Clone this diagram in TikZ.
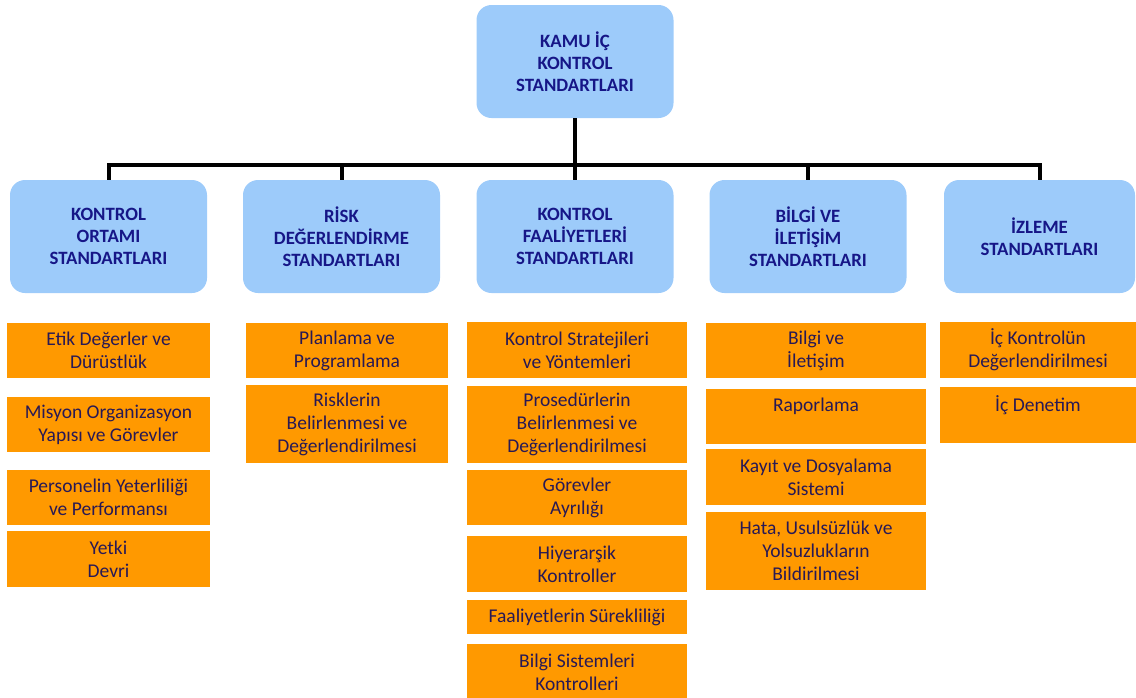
\documentclass[tikz,border=0pt]{standalone}
\usepackage{fontspec}
\setmainfont{Carlito}
\usepackage{xcolor}
\usepackage{tikz}
\usetikzlibrary{positioning}
\definecolor{headblue}{RGB}{157,203,250}
\definecolor{headtext}{RGB}{22,22,135}
\definecolor{itemorange}{RGB}{255,153,0}
\definecolor{itemtext}{RGB}{40,25,85}

\begin{document}
\begin{tikzpicture}[x=1pt, y=-1pt]
\tikzstyle{head}=[rounded corners=15pt, fill=headblue, text=headtext, minimum width=197pt, minimum height=113pt, inner sep=0pt, align=center, font=\fontsize{18.8}{22}\selectfont\bfseries]
\tikzstyle{item}=[fill=itemorange, text=itemtext, inner sep=0pt, align=center, font=\fontsize{19.5}{23}\selectfont]
\tikzstyle{link}=[line width=4pt, line join=miter]
\useasboundingbox (0,0) rectangle (1136,697);

% heads
\node[head] (kamu) at (575,61.5) {KAMU İÇ\\KONTROL\\STANDARTLARI};
\node[head] (ortam) at (108.5,236.5) {KONTROL\\ORTAMI\\STANDARTLARI};
\node[head] (risk) at (341.5,236.5) {RİSK\\DEĞERLENDİRME\\STANDARTLARI};
\node[head] (faal) at (575,236.5) {KONTROL\\FAALİYETLERİ\\STANDARTLARI};
\node[head] (bilgi) at (808,236.5) {BİLGİ VE\\İLETİŞİM\\STANDARTLARI};
\node[head, minimum width=191pt] (izle) at (1039.5,236.5) {İZLEME\\STANDARTLARI};
\coordinate (bus) at (575,165);

\draw[link] (kamu.south) -- (bus);
\draw[link] (bus) -| (ortam.north);
\draw[link] (bus) -| (risk.north);
\draw[link] (bus) -- (faal.north);
\draw[link] (bus) -| (bilgi.north);
\draw[link] (bus) -| (izle.north);

% kontrol ortami
\node[item, minimum width=203pt, minimum height=55pt] (etik) at (108.5,350.5) {Etik Değerler ve\\Dürüstlük};
\node[item, minimum width=203pt, minimum height=55pt] (misyon) at (108.5,424.5) {Misyon Organizasyon\\Yapısı ve Görevler};
\node[item, minimum width=203pt, minimum height=55pt] (personel) at (108.5,497.5) {Personelin Yeterliliği\\ve Performansı};
\node[item, minimum width=203pt, minimum height=56pt] (yetki) at (108.5,559) {Yetki\\Devri};

% risk degerlendirme
\node[item, minimum width=202pt, minimum height=55pt] (plan) at (347,350.5) {Planlama ve\\Programlama};
\node[item, minimum width=202pt, minimum height=78pt] (riskler) at (347,424) {Risklerin\\Belirlenmesi ve\\Değerlendirilmesi};

% kontrol faaliyetleri
\node[item, minimum width=220pt, minimum height=56pt] (strat) at (577,350) {Kontrol Stratejileri\\ve Yöntemleri};
\node[item, minimum width=220pt, minimum height=77pt] (prosedur) at (577,424.5) {Prosedürlerin\\Belirlenmesi ve\\Değerlendirilmesi};
\node[item, minimum width=220pt, minimum height=55pt] (gorev) at (577,497.5) {Görevler\\Ayrılığı};
\node[item, minimum width=220pt, minimum height=56pt] (hiyer) at (577,564) {Hiyerarşik\\Kontroller};
\node[item, minimum width=220pt, minimum height=34pt] (surek) at (577,617) {Faaliyetlerin Sürekliliği};
\node[item, minimum width=220pt, minimum height=56pt] (bsist) at (577,672) {Bilgi Sistemleri\\Kontrolleri};

% bilgi ve iletisim
\node[item, minimum width=220pt, minimum height=55pt] (bilgiv) at (816,350.5) {Bilgi ve\\İletişim};
\node[item, minimum width=220pt, minimum height=55pt] (rapor) at (816,416.5) {Raporlama\\\mbox{}};
\node[item, minimum width=220pt, minimum height=56pt] (kayit) at (816,477) {Kayıt ve Dosyalama\\Sistemi};
\node[item, minimum width=220pt, minimum height=78pt] (hata) at (816,551) {Hata, Usulsüzlük ve\\Yolsuzlukların\\Bildirilmesi};

% izleme
\node[item, minimum width=196pt, minimum height=56pt] (degerl) at (1038,350) {İç Kontrolün\\Değerlendirilmesi};
\node[item, minimum width=196pt, minimum height=56pt] (denetim) at (1038,415) {İç Denetim\\\mbox{}};

\end{tikzpicture}
\end{document}
